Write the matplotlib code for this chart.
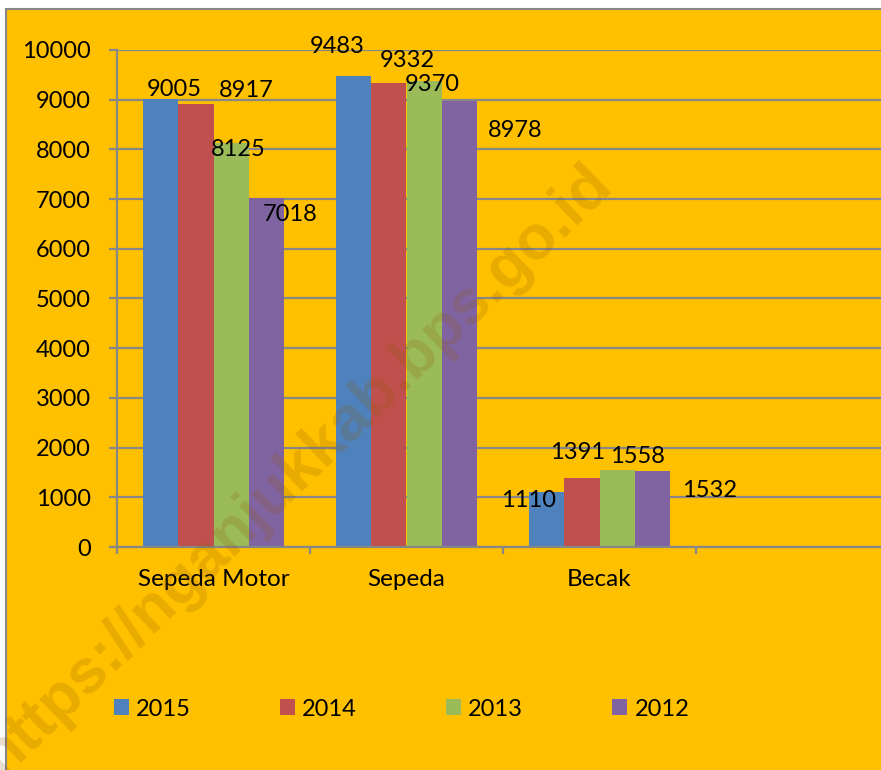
import matplotlib
matplotlib.use("Agg")
import matplotlib.pyplot as plt
from matplotlib.patches import Patch, Rectangle
import numpy as np

# data
kategori = ["Sepeda Motor", "Sepeda", "Becak"]
tahun = ["2015", "2014", "2013", "2012"]
nilai_2015 = [9005, 9483, 1110]
nilai_2014 = [8917, 9332, 1391]
nilai_2013 = [8125, 9370, 1558]
nilai_2012 = [7018, 8978, 1532]
yticks = [0, 1000, 2000, 3000, 4000, 5000, 6000, 7000, 8000, 9000, 10000]

# geser label (piksel: kanan, bawah) relatif ke puncak batang, seperti di gambar asli
geser_2015 = [(14, -10), (-17, -29), (-18, 9)]
geser_2014 = [(50, -13), (18, -23), (-4, -25)]
geser_2013 = [(7, 6), (8, 3), (20, -13)]
geser_2012 = [(24, 16), (56, 30), (57, 20)]

warna = ["#4F81BD", "#C0504D", "#9BBB59", "#8064A2"]
ORANYE = "#FFC000"
ABU = "#878787"

plt.rcParams["font.family"] = ["Lato", "DejaVu Sans"]
FS = 17

W, H = 881, 770
fig = plt.figure(figsize=(W / 100, H / 100), dpi=100)
fig.patch.set_facecolor("white")
fig.patches.append(Rectangle((6 / W, -0.1), 1.2, (H - 9) / H + 0.1, transform=fig.transFigure,
                             facecolor=ORANYE, edgecolor=ABU, linewidth=1.5, zorder=-5))

# 4 slot kategori (slot terakhir kosong), lebar slot 193 px
ax = fig.add_axes([117 / W, 1 - 547 / H, 4 * 193 / W, 497 / H])
ax.set_facecolor("none")
ax.set_zorder(1)

serie = [nilai_2015, nilai_2014, nilai_2013, nilai_2012]
geser = [geser_2015, geser_2014, geser_2013, geser_2012]
pusat = np.arange(len(kategori)) + 0.5
lebar = 35.2 / 193
for i, (vals, g) in enumerate(zip(serie, geser)):
    xs = pusat + (i - 1.5) * lebar
    ax.bar(xs, vals, width=lebar, color=warna[i], zorder=3, label=tahun[i])
    for x, v, (dx, dy) in zip(xs, vals, g):
        ax.annotate(str(v), xy=(x, v), xytext=(dx, -dy), textcoords="offset pixels",
                    ha="center", va="center", fontsize=FS, color="black", zorder=6)

ax.set_xlim(0, 4)
ax.set_ylim(0, 10000)
ax.set_yticks(yticks)
ax.grid(axis="y", color=ABU, linewidth=1.6, zorder=1)
ax.set_axisbelow(True)
for s in ("top", "right"):
    ax.spines[s].set_visible(False)
for s in ("left", "bottom"):
    ax.spines[s].set_color(ABU)
    ax.spines[s].set_linewidth(1.6)
    ax.spines[s].set_zorder(4)

ax.set_xticks([0, 1, 2, 3, 4])
ax.set_xticklabels([])
ax.set_xticks(pusat, minor=True)
ax.set_xticklabels(kategori, minor=True, fontsize=FS + 0.5)
ax.tick_params(axis="x", which="major", direction="out", length=5, width=1.6, color=ABU)
ax.tick_params(axis="x", which="minor", length=0, pad=16)
ax.tick_params(axis="y", direction="out", length=6, width=1.6, color=ABU, labelsize=FS, pad=13)

# watermark
fig.text(296 / W, 1 - 470 / H, "https://nganjukkab.bps.go.id", rotation=44,
         ha="center", va="center", fontsize=45, fontweight="bold",
         family=["Liberation Sans", "DejaVu Sans"], color=(0.55, 0.35, 0.0), alpha=0.2, zorder=10)

handles = [Patch(facecolor=c) for c in warna]
fig.legend(handles, tahun, loc="center left", bbox_to_anchor=(114 / W, 1 - 709 / H),
           ncol=4, frameon=False, fontsize=FS, handlelength=0.64, handleheight=0.64,
           handletextpad=0.3, columnspacing=3.77, borderpad=0, borderaxespad=0)

fig.savefig("out.png", dpi=100, facecolor=fig.get_facecolor())
